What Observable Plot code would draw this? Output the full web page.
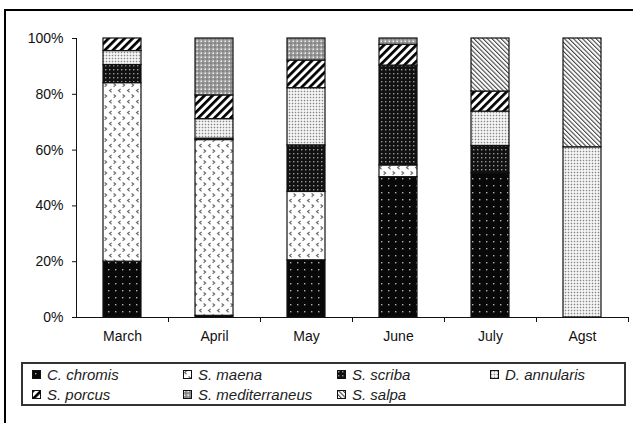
<!DOCTYPE html>
<html>
<head>
<meta charset="utf-8">
<script src="https://cdn.jsdelivr.net/npm/d3@7"></script>
<script src="https://cdn.jsdelivr.net/npm/@observablehq/plot@0.6"></script>
<style>
  html, body { margin: 0; padding: 0; background: #fff; }
  #wrap { position: relative; width: 633px; height: 423px; overflow: hidden; background: #fff;
          font-family: "Liberation Sans", Arial, sans-serif; color: #111; }
  #frame { position: absolute; left: 4px; top: 9px; width: 700px; height: 500px;
           border: 2px solid #000; pointer-events: none; }
  #chart svg { display: block; }
  #legend { position: absolute; left: 21px; top: 362px; width: 592px; height: 40px;
            border: 2px solid #333; display: grid;
            grid-template-columns: 151px 154px 153px auto; grid-auto-rows: 20.5px;
            padding: 0 0 0 9px; box-sizing: content-box; }
  .item { display: flex; align-items: center; font-style: italic; font-size: 15px; white-space: nowrap; color: #222; }
  .item svg { margin-right: 6px; flex: none; }
</style>
</head>
<body>
<svg width="0" height="0" style="position:absolute">
  <defs>
    <pattern id="pChromis" width="7" height="7" patternUnits="userSpaceOnUse">
      <rect width="7" height="7" fill="#080808"/>
      <rect x="3" y="3" width="1.4" height="1.4" fill="#b0b0b0"/>
    </pattern>
    <pattern id="pMaena" width="9" height="11" patternUnits="userSpaceOnUse">
      <rect width="9" height="11" fill="#fff"/>
      <path d="M3.6 1 L1.6 2.6 L3.6 4.2" stroke="#6a6a6a" stroke-width="1.2" fill="none"/>
      <path d="M5.6 6.5 L7.6 8.1 L5.6 9.7" stroke="#6a6a6a" stroke-width="1.2" fill="none"/>
    </pattern>
    <pattern id="pScriba" width="4" height="4" patternUnits="userSpaceOnUse">
      <rect width="4" height="4" fill="#111"/>
      <rect x="1" y="1" width="1.4" height="1.4" fill="#999"/>
    </pattern>
    <pattern id="pAnnularis" width="3" height="3" patternUnits="userSpaceOnUse">
      <rect width="3" height="3" fill="#fff"/>
      <rect x="0.7" y="0.7" width="1.6" height="1.6" fill="#888"/>
    </pattern>
    <pattern id="pPorcus" width="5.7" height="10" patternUnits="userSpaceOnUse" patternTransform="rotate(45)">
      <rect width="5.7" height="10" fill="#fff"/>
      <rect x="0" y="0" width="2.7" height="10" fill="#000"/>
    </pattern>
    <pattern id="pMediterraneus" width="4" height="4" patternUnits="userSpaceOnUse">
      <rect width="4" height="4" fill="#999"/>
      <rect x="0.5" y="0.5" width="1.5" height="1.5" fill="#eee"/>
      <rect x="2.5" y="2.5" width="1" height="1" fill="#4a4a4a"/>
    </pattern>
    <pattern id="pSalpa" width="3.2" height="10" patternUnits="userSpaceOnUse" patternTransform="rotate(-45)">
      <rect width="3.2" height="10" fill="#fff"/>
      <rect x="0" y="0" width="1.1" height="10" fill="#444"/>
    </pattern>
  </defs>
</svg>
<div id="wrap">
  <div id="chart"></div>
  <div id="legend"></div>
  <div id="frame"></div>
</div>
<script>
// ---- data ----
const months = ["March", "April", "May", "June", "July", "Agst"];
const species = ["C. chromis", "S. maena", "S. scriba", "D. annularis", "S. porcus", "S. mediterraneus", "S. salpa"];
const cChromis       = [20.0,  0.6, 20.5, 50.3, 51.7,  0];
const sMaena         = [64.0, 63.0, 24.5,  4.2,  0,    0];
const sScriba        = [ 6.5,  0.5, 16.7, 35.8,  9.8,  0];
const dAnnularis     = [ 5.0,  7.0, 20.5,  0,   12.3, 61];
const sPorcus        = [ 4.5,  8.5,  9.9,  7.4,  7.2,  0];
const sMediterraneus = [ 0,   20.4,  7.9,  2.3,  0,    0];
const sSalpa         = [ 0,    0,    0,    0,   19.0, 39];
const yTicks = [0, 0.2, 0.4, 0.6, 0.8, 1];

const seriesValues = [cChromis, sMaena, sScriba, dAnnularis, sPorcus, sMediterraneus, sSalpa];
const fills = ["url(#pChromis)", "url(#pMaena)", "url(#pScriba)", "url(#pAnnularis)",
               "url(#pPorcus)", "url(#pMediterraneus)", "url(#pSalpa)"];

const table = [];
species.forEach((s, i) => months.forEach((m, j) => {
  table.push({month: m, species: s, value: seriesValues[i][j]});
}));
const rows = table.filter(d => d.value > 0);

const chart = Plot.plot({
  width: 633,
  height: 352,
  marginLeft: 76,
  marginRight: 5,
  marginTop: 38,
  marginBottom: 35,
  style: {fontFamily: "'Liberation Sans', Arial, sans-serif", fontSize: "14px", color: "#111", background: "transparent"},
  x: {domain: months, paddingInner: 0.587, paddingOuter: 0.2935, label: null, axis: null},
  y: {domain: [0, 1], label: null, axis: null},
  color: {domain: species, range: fills},
  marks: [
    Plot.barY(rows, Plot.stackY({offset: "normalize", order: species}, {
      x: "month", y: "value", z: "species", fill: "species", stroke: "#111", strokeWidth: 1.2
    })),
    Plot.axisY({ticks: yTicks, tickFormat: d3.format(".0%"), tickSize: 4, tickPadding: 9, fontSize: 14, label: null}),
    Plot.axisX({tickSize: 0, tickPadding: 14, fontSize: 14, label: null}),
    Plot.axisX({tickSize: 5, dx: 46, tickFormat: () => "", label: null}),
    Plot.frame({anchor: "left", stroke: "#111"}),
    Plot.ruleY([0], {stroke: "#111"})
  ]
});
document.getElementById("chart").appendChild(chart);

// ---- legend ----
const legend = document.getElementById("legend");
species.forEach((s, i) => {
  const item = document.createElement("div");
  item.className = "item";
  item.innerHTML = `<svg width="9" height="9"><rect x="0.5" y="0.5" width="8" height="8" fill="${fills[i]}" stroke="#111" stroke-width="1"/></svg><span>${s}</span>`;
  legend.appendChild(item);
});
</script>
</body>
</html>
